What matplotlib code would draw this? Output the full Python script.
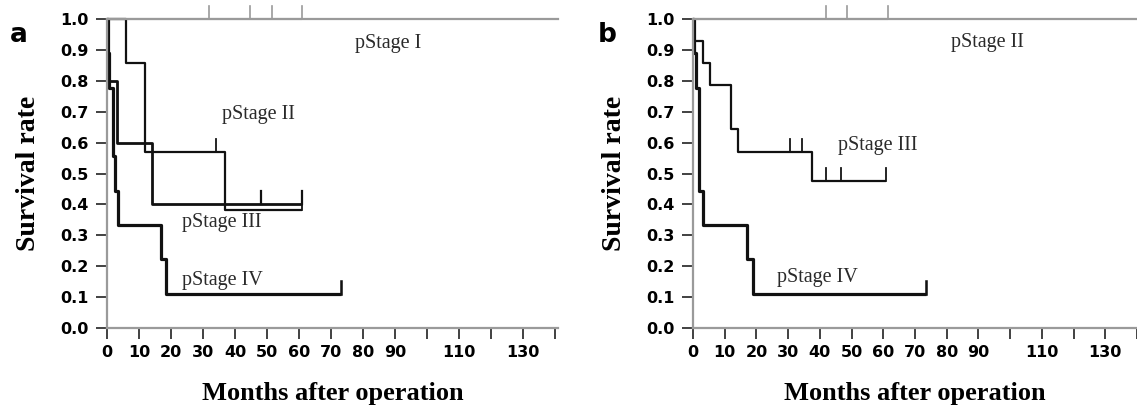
import numpy as np
import matplotlib.pyplot as plt

# ---- panel a ----
a_st1_cens = [32, 44.7, 51.6, 61]

a_st2_time = [6, 12, 12, 37]
a_st2_surv = [0.857, 0.714, 0.571, 0.381]
a_st2_cens = [34, 61]

a_st3_time = [0.4, 3, 14]
a_st3_surv = [0.8, 0.6, 0.4]
a_st3_cens = [48, 61]

a_st4_time = [0.3, 0.6, 2.0, 2.0, 2.4, 3.4, 17, 18.5]
a_st4_surv = [0.889, 0.778, 0.667, 0.556, 0.444, 0.333, 0.222, 0.111]
a_st4_cens = [73]

# ---- panel b ----
b_st2_cens = [42, 48.5, 61.5]

b_st3_time = [0.4, 3, 5.5, 12, 12, 14.3, 37.5]
b_st3_surv = [0.929, 0.857, 0.786, 0.714, 0.643, 0.571, 0.476]
b_st3_cens = [30.5, 34.3, 42, 46.6, 61]

b_st4_time = [0.3, 0.9, 2.0, 2.0, 2.0, 3.1, 17, 18.8]
b_st4_surv = [0.889, 0.778, 0.667, 0.556, 0.444, 0.333, 0.222, 0.111]
b_st4_cens = [73.5]

xticks = list(range(0, 150, 10))
xticklabels = ['0', '10', '20', '30', '40', '50', '60', '70', '80', '90', '', '110', '', '130', '']
yticks = [i / 10 for i in range(11)]

GRAY = '#9a9a9a'
SERIF = 'Liberation Serif'


def km(ax, times, surv, cens, color='#111111', lw=1.6):
    end = max(cens) if cens else max(times)
    x = [0] + list(times) + [end]
    y = [1.0] + list(surv) + [surv[-1] if surv else 1.0]
    ax.step(x, y, where='post', color=color, lw=lw, solid_capstyle='butt', clip_on=False)
    # censor marks
    t = np.array(times)
    s = np.array([1.0] + list(surv))
    for c in cens:
        v = s[np.searchsorted(t, c, side='right')]
        ax.plot([c, c], [v, v + 0.042], color=color, lw=lw * 0.8, clip_on=False)


def setup(ax, xmax, letter, lx):
    ax.set_xlim(0, xmax)
    ax.set_ylim(0, 1.0)
    ax.set_xticks(xticks)
    ax.set_xticklabels(xticklabels)
    ax.set_yticks(yticks)
    ax.set_yticklabels(['%.1f' % v for v in yticks])
    for lab in ax.get_xticklabels() + ax.get_yticklabels():
        lab.set_fontweight('bold')
        lab.set_fontsize(11.5)
        lab.set_family('DejaVu Sans')
    ax.tick_params(direction='out', length=8, width=1.3, color='#333333', pad=4)
    ax.tick_params(axis='y', pad=5)
    for sp in ['left', 'bottom', 'top']:
        ax.spines[sp].set_color(GRAY)
        ax.spines[sp].set_linewidth(1.6)
    ax.spines['right'].set_visible(False)
    ax.set_xlabel('Months after operation', fontfamily=SERIF, fontweight='bold', fontsize=19, labelpad=16)
    ax.set_ylabel('Survival rate', fontfamily=SERIF, fontweight='bold', fontsize=20, labelpad=14)
    ax.figure.text(lx, 0.915, letter, fontsize=19, fontweight='bold', family='DejaVu Sans', va='center')


fig = plt.figure(figsize=(11.37, 4.08), dpi=100)
ax1 = fig.add_axes([0.0941, 0.196, 0.3967, 0.7574])
ax2 = fig.add_axes([0.6095, 0.196, 0.3905, 0.7574])

setup(ax1, 141, 'a', 0.009)
setup(ax2, 139.2, 'b', 0.526)

# panel a curves
km(ax1, [], [], a_st1_cens, color=GRAY, lw=1.5)
km(ax1, a_st2_time, a_st2_surv, a_st2_cens, lw=1.6)
km(ax1, a_st3_time, a_st3_surv, a_st3_cens, lw=2.0)
km(ax1, a_st4_time, a_st4_surv, a_st4_cens, lw=2.3)

# panel b curves
km(ax2, [], [], b_st2_cens, color=GRAY, lw=1.5)
km(ax2, b_st3_time, b_st3_surv, b_st3_cens, lw=1.6)
km(ax2, b_st4_time, b_st4_surv, b_st4_cens, lw=2.3)

tkw = dict(fontfamily=SERIF, fontsize=14.5, color='#2a2a2a', va='center', ha='left')
ax1.text(77.5, 0.92, 'pStage I', **tkw)
ax1.text(36, 0.69, 'pStage II', **tkw)
ax1.text(23.4, 0.34, 'pStage III', **tkw)
ax1.text(23.4, 0.155, 'pStage IV', **tkw)

ax2.text(81.5, 0.925, 'pStage II', **tkw)
ax2.text(45.8, 0.59, 'pStage III', **tkw)
ax2.text(26.6, 0.165, 'pStage IV', **tkw)

fig.savefig('out.png', dpi=100)
